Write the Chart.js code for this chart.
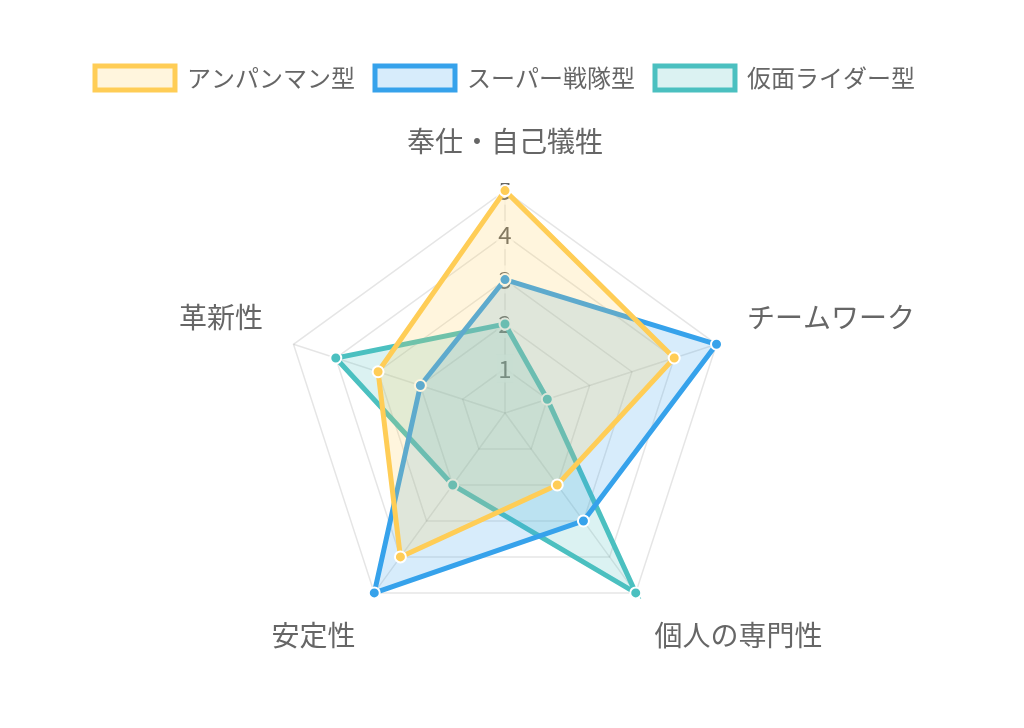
<!DOCTYPE html>
<html>
<head>
<meta charset="utf-8">
<script src="https://cdn.jsdelivr.net/npm/chart.js@4"></script>
<style>
  html, body { margin: 0; padding: 0; background: #fff; }
  #wrap { width: 1024px; height: 728px; }
</style>
</head>
<body>
<div id="wrap"><canvas id="chart-radar"></canvas></div>
<script>
const labels = ['奉仕・自己犠牲', 'チームワーク', '個人の専門性', '安定性', '革新性'];
const anpanman = [5, 4, 2, 4, 3];
const sentai = [3, 5, 3, 5, 2];
const rider = [2, 1, 5, 2, 4];

const fontFamily = '"Noto Sans CJK JP", "Noto Sans", sans-serif';

function makeSet(label, data, r, g, b) {
    return {
        label: label,
        data: data,
        borderWidth: 5,
        borderColor: `rgb(${r}, ${g}, ${b})`,
        backgroundColor: `rgba(${r}, ${g}, ${b}, 0.2)`,
        pointBackgroundColor: `rgb(${r}, ${g}, ${b})`,
        pointBorderColor: '#fff',
        pointBorderWidth: 2,
        pointRadius: 5.5,
        fill: true
    }
}

new Chart(document.getElementById('chart-radar'), {
    type: 'radar',
    data: {
        labels: labels,
        datasets: [
            makeSet('アンパンマン型', anpanman, 255, 205, 86),
            makeSet('スーパー戦隊型', sentai, 54, 162, 235),
            makeSet('仮面ライダー型', rider, 75, 192, 192),
        ]
    },
    options: {
        responsive: true,
        maintainAspectRatio: false,
        animation: false,
        layout: { padding: { top: 46, bottom: 52, left: 0, right: 14 } },
        plugins: {
            legend: {
                position: 'top',
                labels: {
                    boxWidth: 80,
                    boxHeight: 24,
                    color: '#666',
                    font: { size: 24, family: fontFamily },
                    padding: 20
                }
            }
        },
        scales: {
            r: {
                min: 0,
                max: 5,
                ticks: {
                    stepSize: 1,
                    color: '#666',
                    font: { size: 24, family: fontFamily },
                    backdropColor: 'rgba(255, 255, 255, 0.75)'
                },
                grid: { color: 'rgba(0, 0, 0, 0.1)', lineWidth: 1.5 },
                angleLines: { color: 'rgba(0, 0, 0, 0.1)', lineWidth: 1.5 },
                pointLabels: {
                    color: '#666',
                    padding: 18,
                    font: { size: 28, family: fontFamily }
                }
            }
        }
    }
});
</script>
</body>
</html>
